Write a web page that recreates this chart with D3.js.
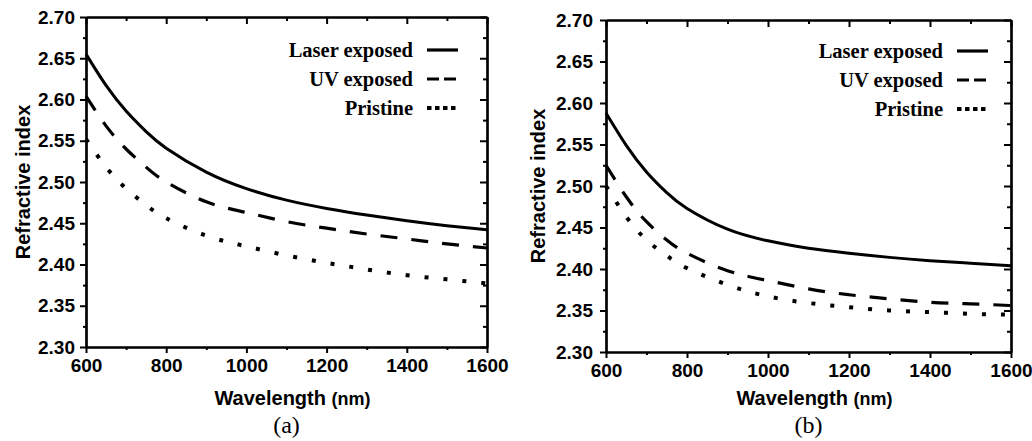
<!DOCTYPE html>
<html>
<head>
<meta charset="utf-8">
<script src="https://cdn.jsdelivr.net/npm/d3@7"></script>
<style>
  body { margin: 0; background: #fff; }
  svg { display: block; }
  .tick text { font-family: Arial, "Liberation Sans", sans-serif; font-weight: bold; font-size: 19px; fill: #000; }
</style>
</head>
<body>
<svg id="chart" width="1032" height="441"></svg>
<script>
// wavelength samples (nm)
var wavelengths = [600, 650, 700, 750, 800, 900, 1000, 1100, 1200, 1300, 1400, 1500, 1600];

// panel (a)
var laserA    = [2.655, 2.617, 2.586, 2.561, 2.541, 2.512, 2.492, 2.478, 2.468, 2.460, 2.453, 2.447, 2.442];
var uvA       = [2.604, 2.568, 2.540, 2.518, 2.500, 2.476, 2.463, 2.452, 2.444, 2.437, 2.431, 2.425, 2.420];
var pristineA = [2.552, 2.518, 2.492, 2.472, 2.456, 2.435, 2.422, 2.411, 2.402, 2.394, 2.387, 2.382, 2.377];

// panel (b)
var laserB    = [2.588, 2.549, 2.517, 2.492, 2.473, 2.448, 2.434, 2.425, 2.419, 2.414, 2.410, 2.407, 2.404];
var uvB       = [2.525, 2.487, 2.457, 2.435, 2.419, 2.398, 2.386, 2.376, 2.369, 2.364, 2.360, 2.358, 2.356];
var pristineB = [2.500, 2.463, 2.435, 2.416, 2.401, 2.381, 2.367, 2.359, 2.354, 2.350, 2.348, 2.346, 2.345];

var seriesNames = ["Laser exposed", "UV exposed", "Pristine"];
var xTicks = [600, 800, 1000, 1200, 1400, 1600];
var xMinor = [700, 900, 1100, 1300, 1500];
var yTicks = [2.30, 2.35, 2.40, 2.45, 2.50, 2.55, 2.60, 2.65, 2.70];
var yMinor = [2.325, 2.375, 2.425, 2.475, 2.525, 2.575, 2.625, 2.675];

var lineStyles = [
  {dash: null, w: 3},
  {dash: "17,14", w: 3.2},
  {dash: "4,15", w: 4}
];
var legendDash = [null, "12,5", "4.5,3.5"];

var svg = d3.select("#chart");

function drawPanel(p) {
  var x = d3.scaleLinear().domain([600, 1600]).range([p.left, p.right]);
  var y = d3.scaleLinear().domain([2.30, 2.70]).range([p.bottom, p.top]);
  var g = svg.append("g");

  // minor ticks first
  g.append("g").attr("transform", "translate(0," + p.bottom + ")")
    .call(d3.axisBottom(x).tickValues(xMinor).tickSize(3).tickSizeOuter(0).tickFormat(""));
  g.append("g").attr("transform", "translate(0," + p.top + ")")
    .call(d3.axisBottom(x).tickValues(xMinor).tickSize(4).tickSizeOuter(0).tickFormat(""));
  g.append("g").attr("transform", "translate(" + p.left + ",0)")
    .call(d3.axisLeft(y).tickValues(yMinor).tickSize(3).tickSizeOuter(0).tickFormat(""));
  g.append("g").attr("transform", "translate(" + p.right + ",0)")
    .call(d3.axisLeft(y).tickValues(yMinor).tickSize(4).tickSizeOuter(0).tickFormat(""));

  // major ticks
  g.append("g").attr("transform", "translate(0," + p.bottom + ")")
    .call(d3.axisBottom(x).tickValues(xTicks).tickSize(6).tickPadding(6).tickSizeOuter(0).tickFormat(d3.format("d")));
  g.append("g").attr("transform", "translate(0," + p.top + ")")
    .call(d3.axisBottom(x).tickValues(xTicks).tickSize(7).tickSizeOuter(0).tickFormat(""));
  g.append("g").attr("transform", "translate(" + p.left + ",0)")
    .call(d3.axisLeft(y).tickValues(yTicks).tickSize(6).tickPadding(p.ypad).tickSizeOuter(0).tickFormat(d3.format(".2f")));
  g.append("g").attr("transform", "translate(" + p.right + ",0)")
    .call(d3.axisLeft(y).tickValues(yTicks).tickSize(7).tickSizeOuter(0).tickFormat(""));

  g.selectAll(".domain").attr("stroke", "#000").attr("stroke-width", 2.2);
  g.selectAll(".tick line").attr("stroke", "#000").attr("stroke-width", 2);

  // curves
  var line = d3.line()
    .x(function(d) { return x(d[0]); })
    .y(function(d) { return y(d[1]); })
    .curve(d3.curveNatural);

  p.series.forEach(function(vals, i) {
    g.append("path")
      .datum(wavelengths.map(function(w, k) { return [w, vals[k]]; }))
      .attr("d", line)
      .attr("fill", "none")
      .attr("stroke", "#000")
      .attr("stroke-width", lineStyles[i].w)
      .attr("stroke-dasharray", lineStyles[i].dash);
  });

  // legend
  seriesNames.forEach(function(name, i) {
    var ly = p.legY + i * 29;
    g.append("text")
      .attr("x", p.legX).attr("y", ly).attr("dy", "0.33em")
      .attr("text-anchor", "end")
      .style("font-family", "'Liberation Serif', 'Times New Roman', serif")
      .style("font-weight", "bold").style("font-size", "20.5px")
      .text(name);
    g.append("line")
      .attr("x1", p.legX + 14).attr("x2", p.legX + 45)
      .attr("y1", ly).attr("y2", ly)
      .attr("stroke", "#000")
      .attr("stroke-width", i == 2 ? 4 : 3.2)
      .attr("stroke-dasharray", legendDash[i]);
  });

  // axis titles
  var xt = g.append("text")
    .attr("x", (p.left + p.right) / 2 + 6).attr("y", 405)
    .attr("text-anchor", "middle")
    .style("font-family", "Arial, 'Liberation Sans', sans-serif").style("font-weight", "bold");
  xt.append("tspan").style("font-size", "20px").text("Wavelength ");
  xt.append("tspan").style("font-size", "18px").text("(nm)");

  g.append("text")
    .attr("transform", "translate(" + (p.left - p.ytitle) + "," + ((p.top + p.bottom) / 2) + ") rotate(-90)")
    .attr("text-anchor", "middle")
    .style("font-family", "Arial, 'Liberation Sans', sans-serif")
    .style("font-weight", "bold").style("font-size", "20px")
    .text("Refractive index");

  g.append("text")
    .attr("x", (p.left + p.right) / 2).attr("y", 433)
    .attr("text-anchor", "middle")
    .style("font-family", "'Liberation Serif', 'Times New Roman', serif")
    .style("font-size", "24px")
    .text(p.tag);
}

drawPanel({left: 86, right: 487, top: 17, bottom: 347, ypad: 5, ytitle: 56,
  series: [laserA, uvA, pristineA], legX: 413, legY: 50, tag: "(a)"});
drawPanel({left: 606, right: 1011, top: 20, bottom: 352, ypad: 7, ytitle: 61,
  series: [laserB, uvB, pristineB], legX: 943, legY: 51, tag: "(b)"});
</script>
</body>
</html>
